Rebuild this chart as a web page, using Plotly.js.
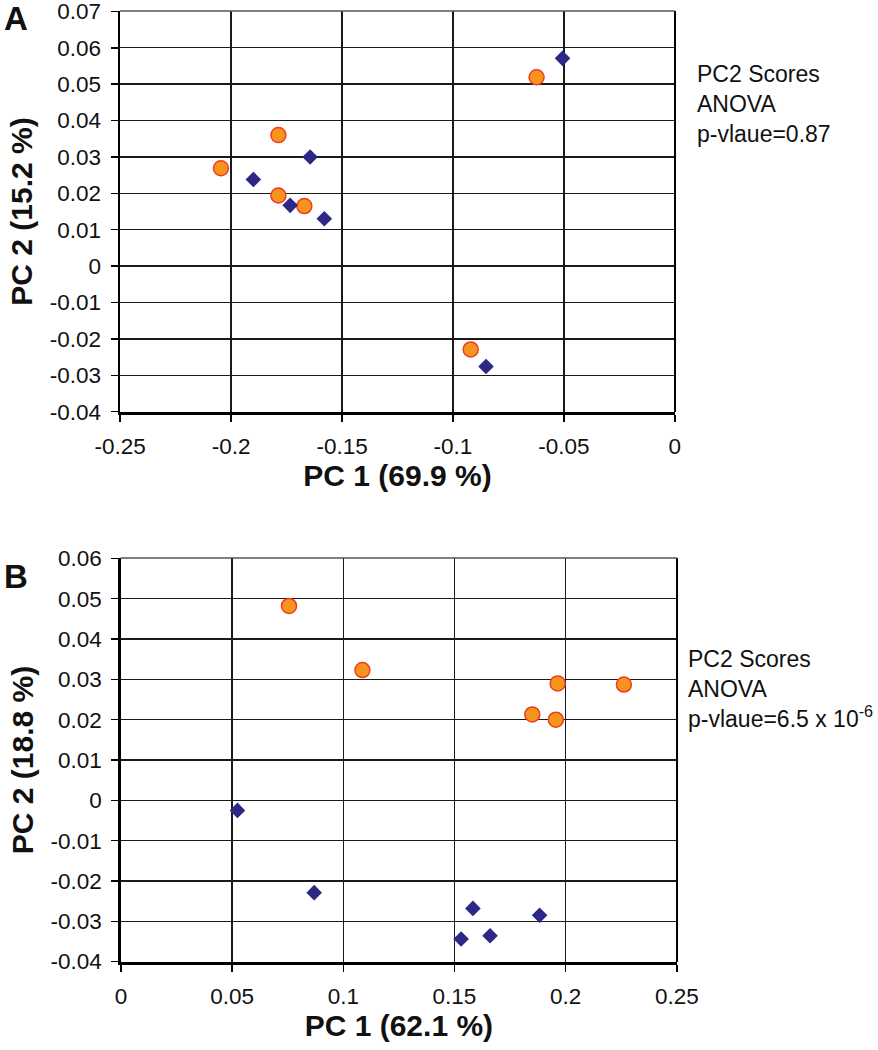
<!DOCTYPE html>
<html>
<head>
<meta charset="utf-8">
<script src="https://cdn.plot.ly/plotly-3.0.1.min.js"></script>
<style>html,body{margin:0;padding:0;background:#fff;}#chart{width:878px;height:1050px;}</style>
</head>
<body>
<div id="chart"></div>
<script>
// Panel A data
const aCircleX = [-0.1787, -0.2046, -0.1787, -0.1670, -0.0623, -0.0920];
const aCircleY = [0.0360, 0.0269, 0.0194, 0.0165, 0.0519, -0.0229];
const aDiamondX = [-0.1644, -0.1900, -0.1734, -0.1580, -0.0506, -0.0851];
const aDiamondY = [0.0300, 0.0238, 0.0167, 0.0130, 0.0571, -0.0276];
// Panel B data
const bCircleX = [0.0756, 0.1086, 0.1964, 0.2262, 0.1850, 0.1956];
const bCircleY = [0.0482, 0.0323, 0.0290, 0.0287, 0.0213, 0.0200];
const bDiamondX = [0.0524, 0.0869, 0.1583, 0.1883, 0.1530, 0.1660];
const bDiamondY = [-0.0025, -0.0229, -0.0268, -0.0285, -0.0344, -0.0336];
// Tick labels
const aXTicks = [-0.25, -0.2, -0.15, -0.1, -0.05, 0];
const aXTickText = ['-0.25', '-0.2', '-0.15', '-0.1', '-0.05', '0'];
const aYTicks = [-0.04, -0.03, -0.02, -0.01, 0, 0.01, 0.02, 0.03, 0.04, 0.05, 0.06, 0.07];
const aYTickText = ['-0.04', '-0.03', '-0.02', '-0.01', '0', '0.01', '0.02', '0.03', '0.04', '0.05', '0.06', '0.07'];
const bXTicks = [0, 0.05, 0.1, 0.15, 0.2, 0.25];
const bXTickText = ['0', '0.05', '0.1', '0.15', '0.2', '0.25'];
const bYTicks = [-0.04, -0.03, -0.02, -0.01, 0, 0.01, 0.02, 0.03, 0.04, 0.05, 0.06];
const bYTickText = ['-0.04', '-0.03', '-0.02', '-0.01', '0', '0.01', '0.02', '0.03', '0.04', '0.05', '0.06'];
// Labels
const xTitleA = 'PC 1 (69.9 %)';
const yTitleA = 'PC 2 (15.2 %)';
const xTitleB = 'PC 1 (62.1 %)';
const yTitleB = 'PC 2 (18.8 %)';
const noteA = ['PC2 Scores', 'ANOVA', 'p-vlaue=0.87'];
const noteB = ['PC2 Scores', 'ANOVA', 'p-vlaue=6.5 x 10<sup>-6</sup>'];

const FONT = 'Liberation Sans, Arial, sans-serif';
const circleMarker = {symbol: 'circle', size: 15, color: '#F7941D', line: {color: '#EE3B24', width: 1.5}};
const diamondMarker = {symbol: 'diamond', size: 12, color: '#2E2785', line: {width: 0}};

const traces = [
  {x: aCircleX, y: aCircleY, xaxis: 'x', yaxis: 'y', mode: 'markers', type: 'scatter', marker: circleMarker},
  {x: aDiamondX, y: aDiamondY, xaxis: 'x', yaxis: 'y', mode: 'markers', type: 'scatter', marker: diamondMarker},
  {x: bCircleX, y: bCircleY, xaxis: 'x2', yaxis: 'y2', mode: 'markers', type: 'scatter', marker: circleMarker},
  {x: bDiamondX, y: bDiamondY, xaxis: 'x2', yaxis: 'y2', mode: 'markers', type: 'scatter', marker: diamondMarker}
];

const titleFont = {family: FONT, size: 30, color: '#111', weight: 'bold'};
const axisCommon = {
  showline: true, linecolor: '#000', linewidth: 2.5,
  showgrid: true, gridcolor: '#1a1a1a', gridwidth: 1.4,
  zeroline: false,
  ticks: 'outside', ticklen: 7, tickwidth: 1.5, tickcolor: '#000',
  tickfont: {family: FONT, size: 22.5, color: '#111'},
  ticklabelstandoff: 5,
  ticklabeloverflow: 'allow',
  automargin: false, fixedrange: true
};

const layout = {
  width: 878, height: 1050,
  margin: {l: 0, r: 0, t: 0, b: 0},
  paper_bgcolor: '#fff', plot_bgcolor: '#fff',
  showlegend: false,
  font: {family: FONT, color: '#111'},
  xaxis: Object.assign({}, axisCommon, {
    domain: [0.1367, 0.7688], range: [-0.2501, 0.0001], anchor: 'y',
    tickvals: aXTicks, ticktext: aXTickText,
    title: {text: xTitleA, font: titleFont, standoff: 2}
  }),
  yaxis: Object.assign({}, axisCommon, {
    domain: [0.6076, 0.9895], range: [-0.0401, 0.0701], anchor: 'x',
    tickvals: aYTicks, ticktext: aYTickText,
    title: {text: yTitleA, font: titleFont, standoff: 8}
  }),
  xaxis2: Object.assign({}, axisCommon, {
    domain: [0.1375, 0.7711], range: [-0.0001, 0.2501], anchor: 'y2',
    tickvals: bXTicks, ticktext: bXTickText,
    title: {text: xTitleB, font: titleFont, standoff: 2}
  }),
  yaxis2: Object.assign({}, axisCommon, {
    domain: [0.0838, 0.4686], range: [-0.0401, 0.0601], anchor: 'x2',
    tickvals: bYTicks, ticktext: bYTickText,
    title: {text: yTitleB, font: titleFont, standoff: 8}
  }),
  shapes: [
    {type: 'line', xref: 'x domain', yref: 'y domain', x0: 1, x1: 1, y0: 0, y1: 1, line: {color: '#000', width: 2}},
    {type: 'line', xref: 'x domain', yref: 'y domain', x0: 0, x1: 1, y0: 1, y1: 1, line: {color: '#555', width: 1.5}},
    {type: 'line', xref: 'x2 domain', yref: 'y2 domain', x0: 1, x1: 1, y0: 0, y1: 1, line: {color: '#000', width: 2}},
    {type: 'line', xref: 'x2 domain', yref: 'y2 domain', x0: 0, x1: 1, y0: 1, y1: 1, line: {color: '#555', width: 1.5}}
  ],
  annotations: [
    {text: 'A', xref: 'paper', yref: 'paper', x: 16 / 878, y: 1 - 19 / 1050, xanchor: 'center', yanchor: 'middle', showarrow: false,
     font: {family: FONT, size: 33, color: '#111', weight: 'bold'}},
    {text: 'B', xref: 'paper', yref: 'paper', x: 16 / 878, y: 1 - 576 / 1050, xanchor: 'center', yanchor: 'middle', showarrow: false,
     font: {family: FONT, size: 33, color: '#111', weight: 'bold'}},
    {text: noteA.join('<br>'), xref: 'paper', yref: 'paper', x: 695 / 878, y: 1 - 104 / 1050, xanchor: 'left', yanchor: 'middle',
     align: 'left', showarrow: false, font: {family: FONT, size: 23, color: '#111'}},
    {text: noteB.join('<br>'), xref: 'paper', yref: 'paper', x: 686 / 878, y: 1 - 689 / 1050, xanchor: 'left', yanchor: 'middle',
     align: 'left', showarrow: false, font: {family: FONT, size: 23, color: '#111'}}
  ]
};

Plotly.newPlot('chart', traces, layout, {staticPlot: true, displayModeBar: false});
</script>
</body>
</html>
